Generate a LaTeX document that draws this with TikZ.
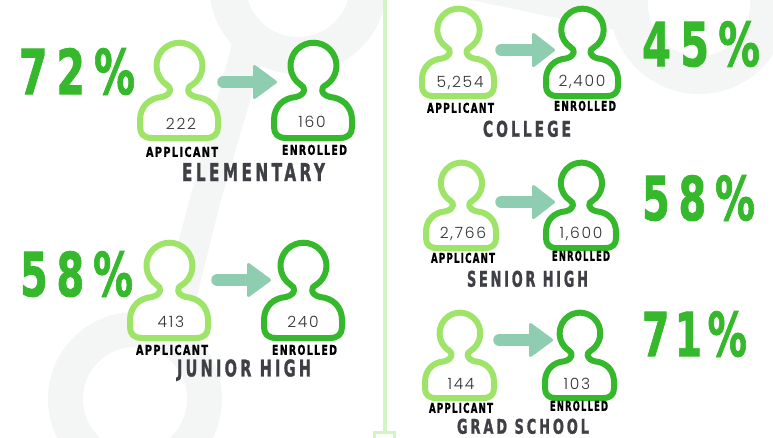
\documentclass[tikz,border=0pt]{standalone}
\usepackage{fontspec}
\usepackage{graphicx}
\newfontfamily\bebas[LetterSpace=14,FakeBold=1.5]{DejaVu Sans Bold}
\newfontfamily\bebaswide[LetterSpace=22,FakeBold=1.5]{DejaVu Sans Bold}
\newfontfamily\numfont[LetterSpace=11]{Poppins Light}
\definecolor{lightgrn}{HTML}{9DE468}
\definecolor{darkgrn}{HTML}{36B82C}
\definecolor{pctgrn}{HTML}{36B82C}
\definecolor{arrowgrn}{HTML}{8FCDB0}
\definecolor{divgrn}{HTML}{D2F5C2}
\definecolor{wash}{HTML}{F4F6F5}
\definecolor{slate}{HTML}{3F4045}
\definecolor{numgrey}{HTML}{333333}
\tikzset{
  x=1pt,y=1pt,
  fitlabel/.style={inner sep=0pt,outer sep=0pt,anchor=south west},
  headcol/.style={text=black},
  titlecol/.style={text=slate},
  pctcol/.style={text=pctgrn},
  numlabel/.style={inner sep=0pt,text=numgrey,font=\numfont\fontsize{15.5}{15.5}\selectfont},
  personline/.style={line width=6pt,line join=round,line cap=round,fill=white},
  arrowpaint/.style={fill=arrowgrn,draw=arrowgrn,line join=round},
}
% name, x1, x2, ytop, ybottom, style, font, text
\newcommand\fitlab[8]{%
  \pgfmathsetmacro\fw{#3-#2}\pgfmathsetmacro\fh{#5-#4}%
  \node[fitlabel,#6] (#1) at (#2,-#5) {\resizebox{\fw pt}{\fh pt}{#7#8}};}
% name, cx, top, w, h, colour
\newcommand\person[6]{%
  \pgfmathsetmacro\sx{(#4-6)/78}\pgfmathsetmacro\sy{(#5-6)/96}%
  \coordinate (#1) at (#2,-#3);
  \begin{scope}[shift={(#2,-#3-3)},xscale=\sx,yscale=\sy]
  \draw[personline,draw=#6]
    (13,-43) arc[start angle=-57,end angle=237,radius=23]
    .. controls (-7,-45.5) and (-7.5,-52.5) .. (-17,-55)
    .. controls (-30,-56) and (-39,-65) .. (-39,-78)
    -- (-39,-85) .. controls (-39,-92) and (-35,-96) .. (-27,-96)
    -- (27,-96) .. controls (35,-96) and (39,-92) .. (39,-85)
    -- (39,-78) .. controls (39,-65) and (30,-56) .. (17,-55)
    .. controls (7.5,-52.5) and (7,-45.5) .. cycle;
  \end{scope}}
% name, x0, base, tip, cy
\newcommand\flow[5]{%
  \coordinate (#1s) at (#2+6.5,-#5);
  \coordinate (#1b) at (#3,-#5);
  \coordinate (#1t) at (#4-1.5,-#5);
  \draw[draw=arrowgrn,line width=12.5pt,line cap=round] (#1s) -- (#1b);
  \filldraw[arrowpaint,line width=3pt] (#3+1.5,-#5+15.5) -- (#1t) -- (#3+1.5,-#5-15.5) -- cycle;}
\begin{document}
\begin{tikzpicture}
\useasboundingbox (0,0) rectangle (773,-437);
\fill[white] (0,0) rectangle (773,-437);
% background watermark
\begin{scope}
\clip (0,0) rectangle (773,-437);
\fill[wash] (298,15) circle[radius=89];
\fill[wash] (135,-399) circle[radius=87];
\fill[wash] (699,-5) circle[radius=89];
\fill[wash] (232,-44) -- (157,-320) -- (181,-360) -- (221,-200) -- (262,-60) -- cycle;
\fill[wash] (471,0) -- (615,-30) -- (660,-30) -- (660,0) -- cycle;
\fill[white] (298,15) circle[radius=52];
\fill[white] (135,-399) circle[radius=52];
\fill[white] (699,-5) circle[radius=51];
\end{scope}
% divider
\fill[divgrn] (383,0) rectangle (387,-433);
\draw[divgrn,line width=3pt] (374.5,-440) -- (374.5,-432.5) -- (394.5,-432.5) -- (394.5,-440);
% elementary
\person{ea}{179}{39}{84}{102}{lightgrn}
\person{ee}{313}{39}{84}{102}{darkgrn}
\flow{fa}{217}{253}{277}{82}
\node[numlabel] (na) at (181,-124) {222};
\node[numlabel] (nb) at (312,-122) {160};
\fitlab{pa}{19}{135}{49}{95}{pctcol}{\bebaswide}{72\%}
\fitlab{la}{146}{218}{147}{157}{headcol}{\bebas}{APPLICANT}
\fitlab{lb}{282}{347}{145}{155}{headcol}{\bebas}{ENROLLED}
\fitlab{ta}{182}{325}{163}{181}{titlecol}{\bebaswide}{ELEMENTARY}
% junior high
\person{ja}{169}{239}{84}{102}{lightgrn}
\person{je}{303}{239}{84}{102}{darkgrn}
\flow{fb}{211}{247}{271}{280}
\node[numlabel] (nc) at (171,-322) {413};
\node[numlabel] (nd) at (303,-322) {240};
\fitlab{pb}{20}{133}{252}{297}{pctcol}{\bebaswide}{58\%}
\fitlab{lc}{136}{208}{345}{355}{headcol}{\bebas}{APPLICANT}
\fitlab{ld}{272}{337}{345}{355}{headcol}{\bebas}{ENROLLED}
\fitlab{tb}{177}{311}{364}{381}{titlecol}{\bebaswide}{JUNIOR HIGH}
% college
\person{ca}{458}{5}{78}{94}{lightgrn}
\person{ce}{582}{5}{78}{94}{darkgrn}
\flow{fc}{495}{532}{555}{50}
\node[numlabel] (ne) at (460,-83) {5,254};
\node[numlabel] (nf) at (582,-82) {2,400};
\fitlab{pc}{642}{760}{22}{67}{pctcol}{\bebaswide}{45\%}
\fitlab{le}{427}{494}{103}{113}{headcol}{\bebas}{APPLICANT}
\fitlab{lf}{554}{616}{101}{111}{headcol}{\bebas}{ENROLLED}
\fitlab{tc}{483}{571}{121}{137}{titlecol}{\bebaswide}{COLLEGE}
% senior high
\person{sa}{461}{159}{76}{92}{lightgrn}
\person{se}{581}{159}{76}{92}{darkgrn}
\flow{fd}{495}{532}{555}{202}
\node[numlabel] (ng) at (463,-234) {2,766};
\node[numlabel] (nh) at (581,-234) {1,600};
\fitlab{pd}{642}{755}{176}{221}{pctcol}{\bebaswide}{58\%}
\fitlab{lg}{431}{495}{253}{263}{headcol}{\bebas}{APPLICANT}
\fitlab{lh}{552}{610}{251}{261}{headcol}{\bebas}{ENROLLED}
\fitlab{td}{467}{588}{271}{287}{titlecol}{\bebaswide}{SENIOR HIGH}
% grad school
\person{ga}{459.5}{309}{75}{92}{lightgrn}
\person{ge}{579.5}{309}{75}{92}{darkgrn}
\flow{fe}{493}{529}{553}{340}
\node[numlabel] (ni) at (461,-384) {144};
\node[numlabel] (nj) at (577,-384) {103};
\fitlab{pe}{642}{747}{312}{357}{pctcol}{\bebas}{71\%}
\fitlab{li}{429}{493}{403}{413}{headcol}{\bebas}{APPLICANT}
\fitlab{lj}{550}{608}{401}{411}{headcol}{\bebas}{ENROLLED}
\fitlab{te}{457}{589}{419}{434}{titlecol}{\bebaswide}{GRAD SCHOOL}
\end{tikzpicture}
\end{document}
